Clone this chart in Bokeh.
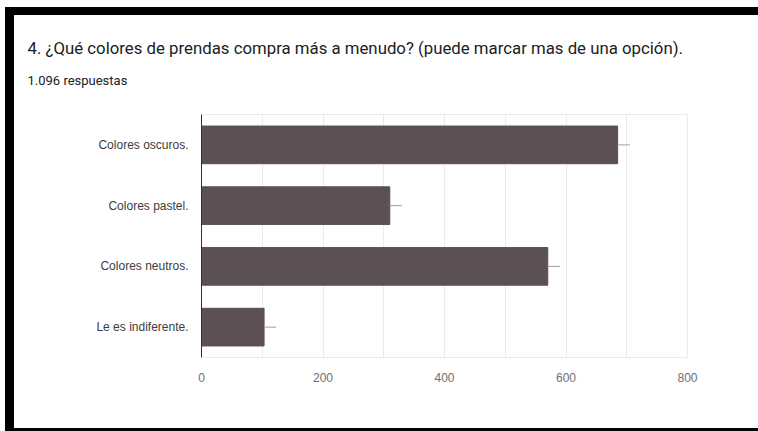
from bokeh.plotting import figure
from bokeh.models import FactorRange, Range1d, FixedTicker, Title, ColumnDataSource
from bokeh.embed import file_html
from bokeh.resources import INLINE

# ---- data ----
title_text = "4. ¿Qué colores de prendas compra más a menudo? (puede marcar mas de una opción)."
subtitle_text = "1.096 respuestas"
categories = ["Colores oscuros.", "Colores pastel.", "Colores neutros.", "Le es indiferente."]
counts = [685, 310, 570, 103]
whisker = [20, 20, 20, 20]
x_ticks = [0, 200, 400, 600, 800]
grid_ticks = [0, 100, 200, 300, 400, 500, 600, 700, 800]

# page geometry (the figure sits inside a black screenshot frame)
OX, OY = 14, 15           # figure origin inside the page
PW, PH = 758 - OX, 428 - OY
FL, FR, FT, FB = 201 - OX, 687 - OX, 114 - OY, 357 - OY

src = ColumnDataSource(dict(cat=categories, val=counts,
                            wend=[c + w for c, w in zip(counts, whisker)]))

p = figure(width=PW, height=PH, output_backend="svg", toolbar_location=None,
           y_range=FactorRange(factors=list(reversed(categories))),
           x_range=Range1d(0, 800),
           min_border_left=FL, min_border_right=PW - FR,
           min_border_top=FT, min_border_bottom=PH - FB)
p.margin = (OY, 0, 0, OX)
p.styles = {"box-shadow": "0 -8px 0 0 black, -9px 0 0 0 black, -9px -8px 0 0 black, "
                          "0 3px 0 0 black, -9px 3px 0 0 black"}
p.border_fill_color = "white"
p.background_fill_color = "white"
p.outline_line_color = "#ebebeb"
p.outline_line_width = 1

p.hbar(y="cat", right="val", left=0, height=0.62, source=src,
       fill_color="#5c5056", line_color="#5c5056")
p.segment(x0="val", x1="wend", y0="cat", y1="cat", source=src,
          line_color="#9e9e9e", line_width=1)

# x axis
p.xaxis.ticker = FixedTicker(ticks=x_ticks)
p.xaxis.axis_line_color = None
p.xaxis.major_tick_line_color = None
p.xaxis.minor_tick_line_color = None
p.xaxis.major_label_standoff = 9
p.xaxis.major_label_text_font = "Liberation Sans"
p.xaxis.major_label_text_font_size = "12px"
p.xaxis.major_label_text_color = "#6f6f6f"
p.xgrid.ticker = FixedTicker(ticks=grid_ticks)
p.xgrid.grid_line_color = "#ebebeb"
p.ygrid.grid_line_color = None

# y axis
p.yaxis.axis_line_color = "#333333"
p.yaxis.axis_line_width = 1
p.yaxis.major_tick_line_color = None
p.yaxis.minor_tick_line_color = None
p.yaxis.major_tick_out = 0
p.yaxis.major_label_standoff = 13
p.yaxis.major_label_text_font = "Liberation Sans"
p.yaxis.major_label_text_font_size = "12px"
p.yaxis.major_label_text_color = "#3c3c3c"

# titles
p.add_layout(Title(text=subtitle_text, align="left", offset=13 - FL, standoff=54,
                   text_font="Roboto", text_font_size="13px", text_color="#202124",
                   text_font_style="normal"), "above")
p.add_layout(Title(text=title_text, align="left", offset=13 - FL, standoff=-28,
                   text_font="Roboto", text_font_size="16.8px", text_color="#202124",
                   text_font_style="normal"), "above")

open("out.html", "w").write(file_html(p, INLINE))
